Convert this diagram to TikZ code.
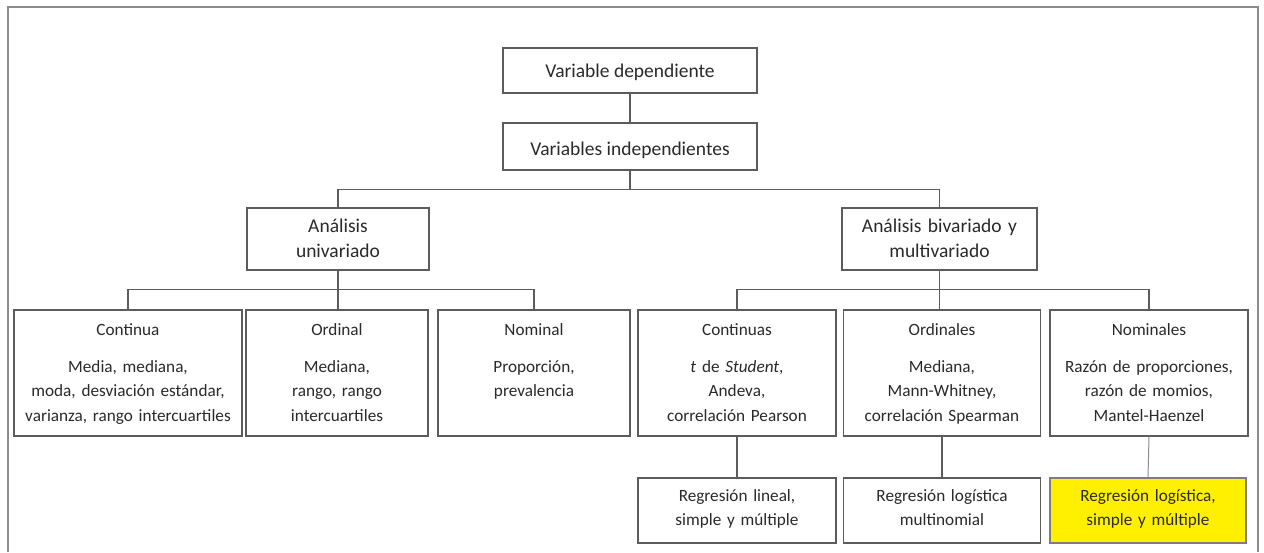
\documentclass[tikz,border=0pt]{standalone}
\usepackage{fontspec}
\setmainfont{Carlito}
\usetikzlibrary{positioning}
\definecolor{txt}{HTML}{2A2A2A}
\definecolor{edge}{HTML}{5C5C5C}
\definecolor{framec}{HTML}{8C8C8C}
\definecolor{hl}{HTML}{FFF000}
\tikzset{
  box/.style={draw=edge, line width=1.4pt, rectangle, inner sep=0pt},
  lbl/.style={anchor=base, inner sep=0pt, text=txt, align=center, font=\fontsize{17.2}{24.5}\selectfont},
  lblbig/.style={anchor=base, inner sep=0pt, text=txt, align=center, font=\fontsize{19.5}{25}\selectfont},
  link/.style={draw=edge, line width=1.3pt},
  thinlink/.style={draw=edge!70, line width=1pt}
}
\begin{document}
\begin{tikzpicture}[x=1pt,y=-1pt]
\useasboundingbox (0,0) rectangle (1264,552);
\fill[white] (0,0) rectangle (1264,552);
% frame
\draw[framec, line width=2.4pt] (8,552) -- (8,7) -- (1258,7) -- (1258,552);

% top boxes
\node[box, minimum width=254pt, minimum height=45pt] (vd) at (630,70.5) {};
\node[box, minimum width=254pt, minimum height=47pt] (vi) at (630,146.5) {};
\node[box, minimum width=182pt, minimum height=62pt] (uni) at (338,239) {};
\node[box, minimum width=195pt, minimum height=62pt] (biv) at (939.5,239) {};

% bottom row
\node[box, minimum width=228pt, minimum height=126pt] (cont) at (128,373) {};
\node[box, minimum width=182pt, minimum height=126pt] (ord) at (337,373) {};
\node[box, minimum width=192pt, minimum height=126pt] (nom) at (534,373) {};
\node[box, minimum width=198pt, minimum height=126pt] (conts) at (737,373) {};
\node[box, minimum width=197pt, minimum height=126pt] (ordls) at (942,373) {};
\node[box, minimum width=198pt, minimum height=126pt] (noms) at (1149,373) {};

% regression row
\node[box, minimum width=198pt, minimum height=65pt] (rl) at (737,510.5) {};
\node[box, minimum width=197pt, minimum height=65pt] (rlm) at (942,510.5) {};
\node[box, fill=hl, draw=edge!80, minimum width=196pt, minimum height=65pt] (rly) at (1148,510.5) {};

% texts
\node[lblbig] (tvd) at ([yshift=-30pt]vd.north) {Variable dependiente};
\node[lblbig] (tvi) at ([yshift=-33pt]vi.north) {Variables independientes};
\node[lblbig, text width=178pt] (tuni) at ([yshift=-25pt]uni.north) {Análisis\\univariado};
\node[lblbig, text width=192pt] (tbiv) at ([yshift=-25pt]biv.north) {Análisis bivariado y\\multivariado};

\foreach \b/\t in {cont/Continua, ord/Ordinal, nom/Nominal, conts/Continuas, ordls/Ordinales, noms/Nominales}
  \node[lbl] (t\b) at ([yshift=-26pt]\b.north) {\t};

\node[lbl, text width=226pt] (bcont) at ([yshift=-63pt]cont.north) {Media, mediana,\\moda, desviación estándar,\\varianza, rango intercuartiles};
\node[lbl, text width=178pt] (bord) at ([yshift=-63pt]ord.north) {Mediana,\\rango, rango\\intercuartiles};
\node[lbl, text width=188pt] (bnom) at ([yshift=-63pt]nom.north) {Proporción,\\prevalencia};
\node[lbl, text width=194pt] (bconts) at ([yshift=-63pt]conts.north) {\textit{t} de \textit{Student},\\Andeva,\\correlación Pearson};
\node[lbl, text width=193pt] (bordls) at ([yshift=-63pt]ordls.north) {Mediana,\\Mann-Whitney,\\correlación Spearman};
\node[lbl, text width=196pt] (bnoms) at ([yshift=-63pt]noms.north) {Razón de proporciones,\\razón de momios,\\Mantel-Haenzel};

\node[lbl, text width=194pt] (trl) at ([yshift=-24pt]rl.north) {Regresión lineal,\\simple y múltiple};
\node[lbl, text width=193pt] (trlm) at ([yshift=-24pt]rlm.north) {Regresión logística\\multinomial};
\node[lbl, text width=192pt] (trly) at ([yshift=-24pt]rly.north) {Regresión logística,\\simple y múltiple};

% connectors
\draw[link] (vd.south) -- (vi.north);
\draw[link] (vi.south) -- (vi.south |- 0,190);
\draw[link] (uni.north) -- ++(0,-18) -| (biv.north);
\draw[link] (uni.south) -- (uni.south |- ord.north);
\draw[link] (cont.north) -- ++(0,-20) -| (nom.north);
\draw[link] (biv.south) -- (biv.south |- ordls.north);
\draw[link] (conts.north) -- ++(0,-20) -| (noms.north);
\draw[link] (conts.south) -- (rl.north);
\draw[link] (ordls.south) -- (rlm.north);
\draw[thinlink] (noms.south) -- (rly.north);
\end{tikzpicture}
\end{document}
